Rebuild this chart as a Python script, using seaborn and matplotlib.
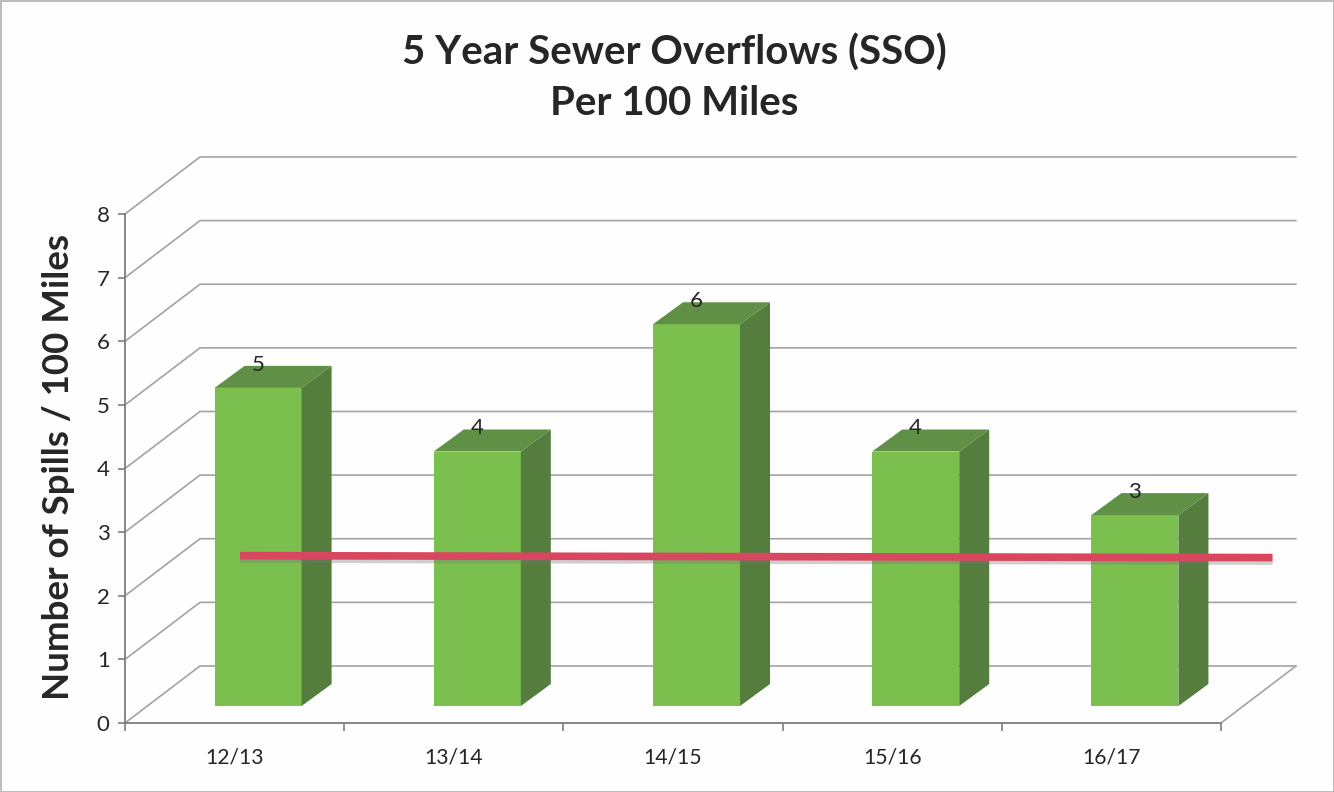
import matplotlib
matplotlib.use("Agg")
import matplotlib.pyplot as plt
import matplotlib.patheffects as pe
from matplotlib.patches import Polygon
from matplotlib.transforms import offset_copy
import pandas as pd
import seaborn as sns

# values
years = ["12/13", "13/14", "14/15", "15/16", "16/17"]
spills = [5, 4, 6, 4, 3]
y_ticks = [0, 1, 2, 3, 4, 5, 6, 7, 8]
avg_x = [0.025, 4.735]
avg_y = [2.63, 2.60]

sns.set_theme(style="white")
plt.rcParams["font.family"] = ["Lato", "DejaVu Sans"]

DPI = 100
W, H = 1334, 792
GRID = "#a3a3a3"
AXIS = "#7d7d7d"
TEXT = "#262626"

fig = plt.figure(figsize=(W / DPI, H / DPI), dpi=DPI, facecolor="#fefefe",
                 edgecolor="#bdbdbd", linewidth=1)
ax = fig.add_axes([125 / W, (H - 723) / H, 1096 / W, 509 / H])
ax.patch.set_alpha(0)

data = pd.DataFrame({"year": years, "spills": spills})

# the bars stand a little in front of the back wall, so shift them in pixels
bar_shift = offset_copy(ax.transData, fig=fig, x=23.5, y=17, units="dots")
sns.barplot(data=data, x="year", y="spills", color="#7bbf4e", saturation=1,
            width=0.397, errorbar=None, transform=bar_shift, zorder=3,
            linewidth=0, ax=ax)

ax.set_xlim(-0.5, 4.5)
ax.set_ylim(0, 8)

# fake 3d wall and floor
wall_dx = 75 / 219.2
wall_dy = 57 / 63.6
wall_end = 4.5 + 75 / 219.2
for v in y_ticks:
    ax.plot([-0.5, -0.5 + wall_dx, wall_end], [v, v + wall_dy, v + wall_dy],
            color=GRID, lw=1.2, clip_on=False, zorder=1)
ax.plot([4.5, wall_end], [0, wall_dy], color=GRID, lw=1.2, clip_on=False, zorder=1)

# side and top of each bar
to_data = ax.transData.inverted()
for p, v in zip(ax.patches, spills):
    bb = p.get_window_extent()
    x0, x1, y0, y1 = bb.x0, bb.x1, bb.y0, bb.y1
    side = [(x1, y0), (x1 + 30, y0 + 22), (x1 + 30, y1 + 22), (x1, y1)]
    top = [(x0, y1), (x1, y1), (x1 + 30, y1 + 22), (x0 + 30, y1 + 22)]
    ax.add_patch(Polygon(to_data.transform(side), fc="#557d3e", lw=0, zorder=3, clip_on=False))
    ax.add_patch(Polygon(to_data.transform(top), fc="#5f9045", lw=0, zorder=3, clip_on=False))

# data labels sit on the top face
label_shift = offset_copy(ax.transData, fig=fig, x=23.5, y=40, units="dots")
for i, v in enumerate(spills):
    ax.text(i, v, str(v), transform=label_shift, ha="center", va="center",
            fontsize=16, color=TEXT, zorder=5)

# red line
line = sns.lineplot(x=avg_x, y=avg_y, color="#d8465f", lw=5.5, ax=ax, zorder=4,
                    estimator=None, sort=False)
line.lines[-1].set_clip_on(False)
line.lines[-1].set_solid_capstyle("butt")
line.lines[-1].set_path_effects([
    pe.SimpleLineShadow(offset=(0, -2.5), shadow_color="#777777", alpha=0.35),
    pe.Normal(),
])

ax.set_xlim(-0.5, 4.5)
ax.set_ylim(0, 8)
ax.set_yticks(y_ticks)
ax.set_xticks(range(len(years)), years)
ax.set_xticks([i - 0.5 for i in range(len(years) + 1)], minor=True)
ax.tick_params(axis="x", which="major", length=0, pad=18, labelsize=15.2, labelcolor=TEXT)
ax.tick_params(axis="x", which="minor", length=6, width=1.2, color=AXIS, bottom=True)
ax.tick_params(axis="y", length=5, width=1.2, color=AXIS, pad=6, left=True,
               labelsize=16, labelcolor=TEXT)
ax.set_xlabel("")
ax.set_ylabel("Number of Spills / 100 Miles", fontsize=26.4, fontweight="bold", color=TEXT)
ax.yaxis.set_label_coords(-0.046, 0.503)
ax.grid(False)
sns.despine(ax=ax, top=True, right=True)
for s in ["left", "bottom"]:
    ax.spines[s].set_color(AXIS)
    ax.spines[s].set_linewidth(1.3)

fig.suptitle("5 Year Sewer Overflows (SSO)\nPer 100 Miles", x=674 / W, y=1 - 78 / H,
             va="center", ha="center", fontsize=29, fontweight="bold", color=TEXT,
             linespacing=1.46)

fig.savefig("out.png", dpi=DPI, facecolor=fig.get_facecolor(), edgecolor=fig.get_edgecolor())
